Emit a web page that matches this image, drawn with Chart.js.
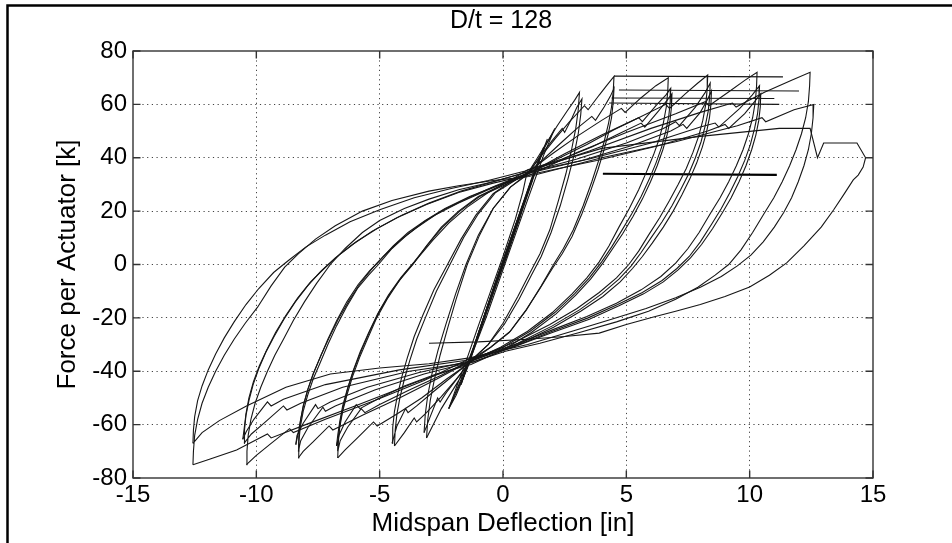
<!DOCTYPE html>
<html><head><meta charset="utf-8">
<script src="https://cdn.jsdelivr.net/npm/chart.js@4/dist/chart.umd.min.js"></script>
<style>html,body{margin:0;padding:0;background:#fff;overflow:hidden}canvas{display:block}</style>
</head><body>
<canvas id="c" width="952" height="543"></canvas>
<script>
const titleText = 'D/t = 128';
const xLabel = 'Midspan Deflection [in]';
const yLabel = 'Force per Actuator [k]';
const xTicks = [-15, -10, -5, 0, 5, 10, 15];
const yTicks = [-80, -60, -40, -20, 0, 20, 40, 60, 80];

// Hysteresis cycles, in test order: [deflection (in), force (k)]
const cycle01 = [[0,0],[0.35,9],[0.7,18],[0.35,9.5],[0,0.5],[-0.35,-8.5],[-0.7,-18]];
const cycle02 = [[-0.7,-18],[-0.2,-5],[0.4,10],[0.9,24],[1.2,32],[0.75,21],[0.1,4],[-0.5,-12],[-1.0,-26],[-1.25,-33]];
const cycle03 = [[-1.25,-33],[-0.65,-17],[0.15,3],[0.85,23],[1.3,35],[1.6,42],[1.15,31],[0.45,13],[-0.35,-8],[-1.05,-27],[-1.35,-36],[-1.6,-42]];
const cycle03b = [[-1.6,-42],[-1.1,-29],[-0.4,-10],[0.3,9],[0.95,26],[1.35,37],[1.65,44],[1.2,33],[0.5,14],[-0.3,-7],[-1.0,-26],[-1.4,-37],[-1.7,-45]];
const cycle04 = [[-1.7,-45],[-1.05,-27],[-0.25,-5],[0.55,16],[1.15,32],[1.7,44],[2.1,51],[1.65,41],[0.95,23],[0.15,2],[-0.65,-19],[-1.35,-36],[-1.8,-46],[-2.2,-54]];
const cycle04b = [[-2.2,-54],[-1.7,-43],[-1.15,-30],[-0.35,-8],[0.45,13],[1.05,29],[1.5,40],[1.8,47],[1.4,37],[0.7,18],[-0.1,-3],[-0.85,-23],[-1.45,-39],[-1.9,-49],[-2.2,-54]];
const cycle05 = [[-2.2,-54],[-1.85,-45],[-1.45,-35],[-1.0,-23],[-0.5,-10],[0,3],[0.5,17],[0.8,27],[0.95,33.5],
  [1.4,40],[1.8,46],[2.2,52],[2.6,57.5],[2.9,61.5],[3.1,64.5],
  [3.05,58],[2.95,51],[2.78,43],[2.55,34],[2.25,24],[1.9,13],[1.5,4],[1.1,-3],[0.6,-12],[0,-22],[-0.6,-30],[-1.25,-35.5],
  [-1.7,-42],[-2.1,-48],[-2.5,-54],[-2.8,-59.5],[-3.1,-65]];
const cycle06 = [[-3.1,-65],[-3.05,-58],[-2.95,-51],[-2.78,-43],[-2.55,-34],[-2.25,-24],[-1.9,-13],[-1.45,0],[-0.95,11],[-0.4,21],[0.3,29],[1.05,34.5],
  [1.5,40.5],[2.0,46.5],[2.4,51],[2.5,49.5],[2.8,55],[3.0,59],[3.2,62],
  [3.15,56],[3.05,49],[2.88,41],[2.63,32],[2.32,22],[1.95,12],[1.55,3],[1.15,-4],[0.65,-13],[0.05,-22.5],[-0.6,-30],[-1.35,-36.5],
  [-1.8,-42],[-2.3,-48],[-2.55,-51.5],[-2.65,-50],[-2.95,-57],[-3.2,-63]];
const cycle07 = [[-3.2,-63],[-3.15,-56],[-3.05,-49],[-2.88,-41],[-2.63,-32],[-2.3,-22],[-1.92,-11],[-1.5,0],[-1.0,11],[-0.4,21],[0.3,29],[0.9,33],
  [1.5,40],[2.1,47],[2.7,53.5],[3.3,59.5],[3.45,58],[3.9,63.5],[4.2,67],[4.5,70.5],
  [4.47,65],[4.4,59],[4.28,53],[4.1,46],[3.88,39],[3.6,31],[3.25,22],[2.85,13],[2.45,6],[2.05,0],[1.55,-8],[0.95,-17],[0.3,-25],[-0.5,-31],[-1.2,-35],
  [-1.9,-43],[-2.5,-49.5],[-3.1,-55.5],[-3.5,-59],[-3.6,-57.5],[-4.0,-63],[-4.4,-68]];
const cycle08 = [[-4.4,-68],[-4.37,-62],[-4.3,-56],[-4.18,-50],[-4.0,-43],[-3.78,-36],[-3.5,-28],[-3.15,-20],[-2.7,-10],[-2.15,0],[-1.6,10],[-1.0,19],[-0.3,27],[0.4,31],[1.1,35],
  [1.7,40],[2.4,46],[3.0,51],[3.6,55.5],[3.75,54],[4.1,59],[4.35,63],[4.5,66],
  [4.47,61],[4.4,55],[4.27,49],[4.08,42.5],[3.85,35.5],[3.55,27.5],[3.2,19],[2.8,10.5],[2.4,4],[2.0,-1.5],[1.5,-9],[0.9,-17.5],[0.25,-25.5],[-0.5,-31],[-1.4,-37],
  [-2.0,-41.5],[-2.8,-47.5],[-3.5,-53],[-3.85,-55.5],[-3.95,-54],[-4.3,-60.5],[-4.5,-67]];
const cycle09 = [[-4.5,-67],[-4.47,-61],[-4.4,-55],[-4.28,-49],[-4.1,-42],[-3.88,-35],[-3.6,-27],[-3.25,-19],[-2.8,-9.5],[-2.25,0],[-1.7,9.5],[-1.1,18.5],[-0.4,26.5],[0.3,31],[0.85,33.5],
  [2,41.5],[3,48],[4,54],[4.8,58.5],[4.95,57],[5.6,62.5],[6.2,67],[6.7,70],
  [6.68,65],[6.62,59],[6.5,53],[6.33,47],[6.1,41],[5.83,35],[5.5,28],[5.12,21],[4.7,14],[4.3,7],[3.9,1],[3.4,-5],[2.8,-11],[2.0,-18],[1.0,-25],[-0.1,-31],[-1.15,-35.5],
  [-2.3,-43],[-3.3,-50],[-4.3,-56],[-5.1,-60.5],[-5.25,-59],[-5.9,-65],[-6.4,-69.5],[-6.7,-72.5]];
const cycle10 = [[-6.7,-72.5],[-6.68,-67],[-6.62,-61],[-6.5,-55],[-6.33,-49],[-6.1,-42],[-5.82,-35],[-5.5,-28],[-5.12,-20],[-4.7,-13],[-4.2,-6],[-3.65,0],[-3.1,7],[-2.5,14],[-1.8,20],[-1.0,25.5],[0,30],[1.15,34.5],
  [2.2,39.5],[3.4,45],[4.5,50.5],[5.5,55],[5.65,53.5],[6.2,59.5],[6.6,63.5],[6.8,66],
  [6.78,61],[6.72,55.5],[6.6,50],[6.43,44],[6.2,38],[5.93,32],[5.6,25.5],[5.22,19],[4.8,12.5],[4.4,6.5],[4.0,1],[3.5,-5],[2.9,-11],[2.1,-18],[1.1,-25],[0,-31],[-1.45,-36.5],
  [-2.5,-41.5],[-3.8,-47],[-5.0,-52.5],[-5.6,-55.5],[-5.75,-54],[-6.3,-61],[-6.6,-66],[-6.7,-70]];
const cycle10c = [[-6.7,-70],[-6.68,-65],[-6.6,-59],[-6.47,-53],[-6.28,-46],[-6.03,-39],[-5.73,-32],[-5.38,-24.5],[-4.98,-17],[-4.52,-10],[-4.0,-3.5],[-3.45,2.5],[-2.85,9],[-2.2,15.5],[-1.45,21.5],[-0.6,27],[0.2,31],[1.0,35.5],
  [2.4,39.5],[3.6,44],[4.7,49],[5.6,53],[5.75,51.5],[6.3,57.5],[6.65,61.5],[6.85,64],
  [6.83,59],[6.77,54],[6.65,48.5],[6.48,43],[6.25,37],[5.98,31],[5.65,24.5],[5.27,18],[4.85,11.5],[4.45,6],[4.05,0.5],[3.55,-5.5],[2.95,-11.5],[2.15,-18.5],[1.15,-25.5],[0,-32],[-1.3,-37.5],
  [-2.7,-41],[-4.0,-45.5],[-5.1,-50.5],[-5.8,-54],[-5.95,-52.5],[-6.4,-59],[-6.65,-64],[-6.75,-68]];
const cycle11 = [[-6.75,-68],[-6.7,-64],[-6.62,-59],[-6.5,-53],[-6.32,-47],[-6.08,-40],[-5.8,-33],[-5.47,-26],[-5.08,-18.5],[-4.65,-11.5],[-4.15,-5],[-3.6,1],[-3.05,7.5],[-2.45,14],[-1.75,20],[-0.95,25.5],[0,29.5],[0.8,33],
  [2.5,41.5],[4,48.5],[5.5,55],[6.6,60],[6.75,58.5],[7.4,64],[7.9,68],[8.3,71],
  [8.28,66],[8.22,60],[8.1,54],[7.93,48],[7.7,42],[7.43,36],[7.1,30],[6.75,24],[6.35,17.5],[5.9,11],[5.5,5],[5.1,0],[4.6,-5],[3.9,-10.5],[3.0,-16.5],[1.9,-22.5],[0.5,-29],[-1.1,-35],
  [-2.7,-43],[-4.2,-50],[-5.7,-56.5],[-6.9,-62],[-7.05,-60.5],[-7.7,-66.5],[-8.1,-70],[-8.3,-72.5]];
const cycle12 = [[-8.3,-72.5],[-8.28,-67],[-8.22,-61],[-8.1,-55],[-7.92,-49],[-7.7,-43],[-7.42,-37],[-7.1,-30],[-6.75,-23],[-6.35,-16],[-5.9,-9],[-5.45,-4],[-5.05,0],[-4.5,6],[-3.9,11],[-3.2,16],[-2.4,20.5],[-1.4,25],[-0.3,29.5],[1.2,35],
  [3,39.5],[5,45.5],[6.5,51],[7.0,53.5],[7.15,52],[7.8,59],[8.2,64.5],[8.4,68],
  [8.38,63],[8.32,57.5],[8.2,52],[8.03,46],[7.8,40],[7.53,34],[7.2,28],[6.85,22],[6.45,16],[6.0,10],[5.6,4.5],[5.2,-0.5],[4.7,-5.5],[4.0,-11],[3.1,-17],[2.0,-23],[0.6,-29.5],[-1.5,-37],
  [-3.2,-41],[-5.2,-47],[-6.8,-53],[-7.2,-55],[-7.3,-53.5],[-7.9,-61],[-8.2,-66],[-8.3,-70]];
const cycle12c = [[-8.3,-70],[-8.28,-64.5],[-8.21,-58.5],[-8.08,-52.5],[-7.9,-46.5],[-7.67,-40.5],[-7.38,-34],[-7.05,-27.5],[-6.68,-20.5],[-6.27,-14],[-5.82,-7.5],[-5.35,-2],[-4.85,3],[-4.25,8.5],[-3.55,13.5],[-2.75,18.5],[-1.8,23],[-0.6,28],[0.95,34],
  [3.2,39],[5.2,44.5],[6.8,50],[7.3,52.5],[7.45,51],[8.0,57],[8.3,62],[8.45,65],
  [8.43,60],[8.37,55],[8.25,49.5],[8.08,44],[7.85,38],[7.57,32],[7.25,26],[6.9,20],[6.5,14],[6.05,8],[5.65,3],[5.25,-1.5],[4.75,-6.5],[4.05,-12],[3.15,-17.5],[2.05,-23.5],[0.6,-30],[-1.25,-36],
  [-3.4,-40.5],[-5.5,-46],[-7.0,-51.5],[-7.5,-54],[-7.6,-52.5],[-8.1,-59.5],[-8.35,-64],[-8.4,-67.5]];
const cycle13 = [[-8.4,-67.5],[-8.3,-63],[-8.22,-59],[-8.1,-53],[-7.92,-47],[-7.7,-41],[-7.42,-35],[-7.1,-28],[-6.74,-21],[-6.33,-14],[-5.87,-7.5],[-5.42,-2.5],[-5.0,1.5],[-4.45,7],[-3.85,12],[-3.15,16.5],[-2.35,21],[-1.35,25.5],[-0.25,29.5],[1.1,33.5],
  [3,42],[5,49.5],[7,56.5],[8.2,61],[8.35,59.5],[9.2,65],[9.8,69],[10.3,72],
  [10.28,67],[10.23,61],[10.12,55],[9.95,49],[9.73,43],[9.46,37],[9.15,31],[8.8,25],[8.4,19],[7.95,12],[7.5,6],[7.0,0.5],[6.4,-4.5],[5.6,-9.5],[4.6,-14.5],[3.4,-19.5],[2.0,-24.5],[0.5,-30],[-1.4,-35.5],
  [-3.2,-43.5],[-5.2,-51],[-7.2,-58],[-8.5,-63],[-8.65,-61.5],[-9.4,-67],[-10.0,-71.5],[-10.4,-75]];
const cycle14 = [[-10.4,-75],[-10.38,-70],[-10.33,-64],[-10.22,-58],[-10.05,-52],[-9.82,-46],[-9.55,-40],[-9.25,-34],[-8.9,-28],[-8.5,-21],[-8.05,-14],[-7.55,-7],[-7.0,0],[-6.4,6],[-5.7,12],[-5.0,16.5],[-4.0,21],[-3.0,24.5],[-1.8,28],[-0.4,31],[0.9,34.5],
  [3.5,39.5],[6,45.5],[8,51.5],[8.6,53],[8.75,51.5],[9.6,58.5],[10.1,63.5],[10.4,67],
  [10.38,62],[10.32,56.5],[10.2,51],[10.03,45],[9.8,39],[9.52,33],[9.2,27],[8.85,21],[8.45,15],[8.0,8.5],[7.55,3],[7.05,-1.5],[6.45,-6],[5.65,-10.5],[4.65,-15],[3.45,-20],[2.0,-25],[0.5,-30.5],[-1.2,-36.5],
  [-3.8,-40],[-6.5,-46],[-8.2,-52],[-8.76,-54.5],[-8.9,-53],[-9.7,-59.5],[-10.2,-63.5],[-10.5,-67]];
const cycle14c = [[-10.5,-67],[-10.48,-62],[-10.42,-56.5],[-10.3,-51],[-10.13,-45],[-9.9,-39],[-9.62,-33],[-9.28,-27],[-8.88,-20.5],[-8.42,-14],[-7.92,-8],[-7.38,-2.5],[-6.8,2.5],[-6.1,7.5],[-5.3,12.5],[-4.3,17.5],[-3.1,22.5],[-1.8,27],[-0.4,30.5],[1.25,34],
  [3.8,39],[6.3,44.5],[8.3,50],[9.0,52.5],[9.15,51],[9.8,56.5],[10.2,61],[10.45,64],
  [10.43,59],[10.37,54],[10.25,48.5],[10.08,43],[9.85,37],[9.57,31],[9.25,25],[8.9,19.5],[8.5,13.5],[8.05,7.5],[7.6,2.5],[7.1,-2],[6.5,-6.5],[5.7,-11],[4.7,-15.5],[3.5,-20.5],[2.0,-25.5],[0.4,-31],[-1.55,-36],
  [-4.2,-39.5],[-7.2,-45],[-8.9,-50.5],[-9.4,-53],[-9.55,-51.5],[-10.1,-58],[-10.4,-62.5],[-10.55,-65.5]];
const cycle15 = [[-10.55,-65.5],[-10.5,-62],[-10.42,-56],[-10.3,-50],[-10.12,-44],[-9.88,-38],[-9.58,-32],[-9.22,-25.5],[-8.8,-19],[-8.32,-12.5],[-7.8,-6.5],[-7.25,-1.5],[-6.65,3.5],[-5.95,8.5],[-5.1,13.5],[-4.1,18.5],[-3.0,23],[-1.7,27.5],[-0.4,31],[0.75,34],
  [3.5,42.5],[6,51],[8,57],[9.3,60.5],[9.45,59],[10.6,64.5],[11.7,69],[12.45,72],
  [12.43,67],[12.38,61],[12.27,55],[12.1,49],[11.88,43],[11.62,37],[11.32,31],[10.98,25],[10.58,19],[10.12,12],[9.65,5.5],[9.15,0],[8.6,-4],[7.9,-8.5],[7.0,-13],[5.9,-17.5],[4.6,-21.5],[3.1,-25.5],[1.5,-29.5],[0.1,-32.5],[-1.05,-36],
  [-3.5,-44],[-6.0,-53],[-8.0,-60],[-9.4,-65],[-9.55,-63.5],[-10.8,-69.5],[-11.9,-73],[-12.57,-75]];
const cycle16 = [[-12.57,-75],[-12.55,-70],[-12.5,-64],[-12.38,-58],[-12.2,-52],[-11.95,-46],[-11.65,-40],[-11.3,-34],[-10.9,-28],[-10.45,-22],[-9.95,-16],[-9.4,-8],[-8.85,-1],[-8.3,4],[-7.6,9.5],[-6.8,14.5],[-5.7,20],[-4.5,24],[-3.0,27.5],[-1.8,29.5],[-0.4,31.5],[1.05,33],
  [4,40],[7,46],[9.5,52],[10.5,55],[10.65,53.5],[11.8,58],[12.6,60],
  [12.57,55],[12.5,49],[12.38,43],[12.2,37],[11.97,31],[11.7,25],[11.38,19.5],[11.0,14],[10.55,8.5],[10.05,3.5],[9.5,-0.5],[8.85,-4.5],[8.0,-8.5],[7.0,-12.5],[5.8,-16.5],[4.4,-20.5],[2.8,-25],[1.0,-30],[-1.35,-35],
  [-3,-37.2],[-5,-38.8],[-7,-41],[-8.8,-46],[-10.4,-53],[-11.5,-58.5],[-12.2,-63],[-12.57,-67]];
const cycle17 = [[-12.57,-67],[-12.55,-62],[-12.5,-57],[-12.38,-51],[-12.2,-45.5],[-11.95,-39.5],[-11.65,-33.5],[-11.3,-27.5],[-10.9,-21.5],[-10.42,-15],[-9.9,-9],[-9.3,-3],[-8.7,1.5],[-8.0,6.5],[-7.2,11],[-6.2,16],[-5.0,20.5],[-3.6,25],[-2.1,28.5],[-0.6,31.5],[0.9,35],
  [4,43.5],[8,48],[11.2,51],[12.45,51],[12.75,40],[13,45.5],[14.35,45.5],[14.7,40],
  [14.6,36.5],[14.4,33.5],[14.2,31.7],[13.8,26],[13.4,20.4],[12.9,14],[12.2,7],[11.5,0.6],[10.8,-4],[10.0,-8.4],[9.0,-12],[8.0,-15],[7.0,-17.5],[6.1,-19.7],[5.0,-22.5],[3.9,-25.7],[2.5,-27],[1.0,-28],[-1.0,-29],[-3.0,-29.5]];

// Nearly flat jumps recorded during holds
const hold34 = [[4.05,34],[11.1,33.6]];
const hold60 = [[4.3,60.5],[11.2,60]];
const hold62 = [[4.4,62.4],[11.0,62.2]];
const hold65 = [[4.7,65.4],[12.0,65]];
const hold70 = [[4.5,70.6],[11.35,70.3]];

const cycles = [cycle01,cycle02,cycle03,cycle03b,cycle04,cycle04b,cycle05,cycle06,cycle07,cycle08,cycle09,cycle10,cycle10c,cycle11,cycle12,cycle12c,cycle13,cycle14,cycle14c,cycle15,cycle16,cycle17];
const holds = [hold60, hold62, hold65, hold70];

const FONT = '"Liberation Sans", Arial, Helvetica, sans-serif';
const toPts = arr => arr.map(p => ({x: p[0], y: p[1]}));
const lineStyle = {showLine: true, borderColor: '#161616', borderWidth: 1.1, pointRadius: 0, tension: 0, fill: false};
const datasets = cycles.map(c => Object.assign({data: toPts(c)}, lineStyle))
  .concat(holds.map(h => Object.assign({data: toPts(h)}, lineStyle)))
  .concat([Object.assign({data: toPts(hold34)}, lineStyle, {borderColor: '#000', borderWidth: 2.2})]);

const frame = {
  id: 'frame',
  afterDraw(chart) {
    const {ctx, chartArea: a, scales: {x, y}} = chart;
    ctx.save();
    ctx.strokeStyle = '#333'; ctx.lineWidth = 1.4;
    ctx.strokeRect(a.left, a.top, a.right - a.left, a.bottom - a.top);
    ctx.beginPath();
    const L = 7.5;
    xTicks.forEach(v => { const p = x.getPixelForValue(v); ctx.moveTo(p, a.bottom); ctx.lineTo(p, a.bottom - L); ctx.moveTo(p, a.top); ctx.lineTo(p, a.top + L); });
    yTicks.forEach(v => { const p = y.getPixelForValue(v); ctx.moveTo(a.left, p); ctx.lineTo(a.left + L, p); ctx.moveTo(a.right, p); ctx.lineTo(a.right - L, p); });
    ctx.stroke();
    ctx.fillStyle = '#000'; ctx.font = '25px ' + FONT; ctx.textAlign = 'center'; ctx.textBaseline = 'middle';
    ctx.fillText(titleText, (a.left + a.right) / 2 - 2, 21);
    ctx.strokeStyle = '#000'; ctx.lineWidth = 2.5;
    ctx.beginPath(); ctx.moveTo(7.5, 543); ctx.lineTo(7.5, 5.5); ctx.lineTo(952, 5.5); ctx.stroke();
    ctx.restore();
  }
};

const gridColor = ctx => (ctx.tick && (Math.abs(ctx.tick.value) === 15 || Math.abs(ctx.tick.value) === 80)) ? 'rgba(0,0,0,0)' : '#444';

new Chart(document.getElementById('c'), {
  type: 'scatter',
  data: {datasets},
  plugins: [frame],
  options: {
    responsive: false, animation: false, events: [],
    layout: {padding: {left: 0, right: 79, top: 51, bottom: 0}},
    plugins: {legend: {display: false}, tooltip: {enabled: false}, title: {display: false}},
    scales: {
      x: {
        type: 'linear', min: -15, max: 15,
        afterBuildTicks: s => { s.ticks = xTicks.map(v => ({value: v})); },
        afterFit: s => { s.height = 65; },
        grid: {drawTicks: false, color: gridColor, lineWidth: 1},
        border: {display: false, dash: [1.2, 3.5]},
        ticks: {color: '#000', font: {family: FONT, size: 24}, padding: 3, maxRotation: 0, autoSkip: false},
        title: {display: true, text: xLabel, color: '#000', font: {family: FONT, size: 26}, padding: {top: 0, bottom: 4}}
      },
      y: {
        type: 'linear', min: -80, max: 80,
        afterBuildTicks: s => { s.ticks = yTicks.map(v => ({value: v})); },
        afterFit: s => { s.width = 133; },
        grid: {drawTicks: false, color: gridColor, lineWidth: 1},
        border: {display: false, dash: [1.2, 3.5]},
        ticks: {color: '#000', font: {family: FONT, size: 24}, padding: 6, autoSkip: false},
        title: {display: true, text: yLabel, color: '#000', font: {family: FONT, size: 26}, padding: {top: 52, bottom: 0}}
      }
    }
  }
});
</script>
</body></html>
